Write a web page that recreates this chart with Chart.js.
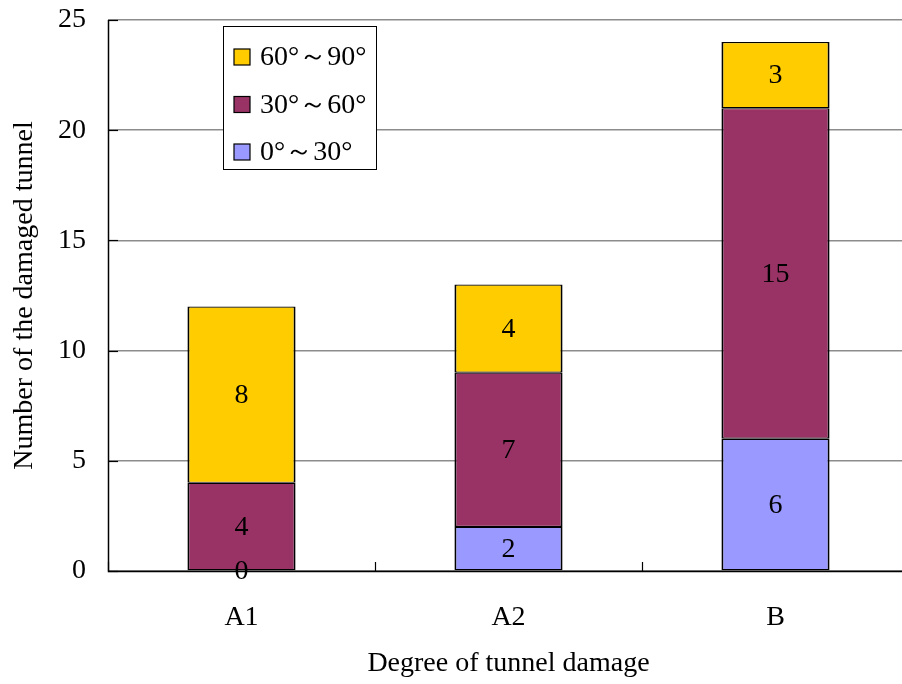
<!DOCTYPE html>
<html><head><meta charset="utf-8">
<script src="https://cdn.jsdelivr.net/npm/chart.js@4"></script>
<style>html,body{margin:0;padding:0;background:#fff;overflow:hidden;width:902px;height:684px}canvas{display:block}</style>
</head><body>
<canvas id="c" width="909" height="684" style="width:909px;height:684px"></canvas>
<script>
const categories = ['A1', 'A2', 'B'];
const seriesNames = ['0°～30°', '30°～60°', '60°～90°'];
const lowValues = [0, 2, 6];
const midValues = [4, 7, 15];
const highValues = [8, 4, 3];
const yTickValues = [0, 5, 10, 15, 20, 25];
const xTitle = 'Degree of tunnel damage';
const yTitle = 'Number of the damaged tunnel';

const seriesColors = ['#9999FF', '#993366', '#FFCC00'];
const FONT = "'Liberation Serif', 'Times New Roman', serif";
const FS = 28;

const valueLabels = {
  id: 'valueLabels',
  afterDatasetsDraw(chart) {
    const ctx = chart.ctx;
    ctx.save();
    ctx.font = FS + 'px ' + FONT;
    ctx.fillStyle = '#000';
    ctx.textAlign = 'center';
    ctx.textBaseline = 'middle';
    chart.data.datasets.forEach((ds, i) => {
      const meta = chart.getDatasetMeta(i);
      meta.data.forEach((el, j) => {
        const v = ds.data[j];
        ctx.fillText(String(v), el.x, (el.y + el.base) / 2 + 1);
      });
    });
    ctx.restore();
  }
};

const axisDecor = {
  id: 'axisDecor',
  afterDatasetsDraw(chart) {
    const ctx = chart.ctx;
    const a = chart.chartArea;
    const xs = chart.scales.x, ys = chart.scales.y;
    ctx.save();
    ctx.strokeStyle = '#000';
    ctx.lineWidth = 1.2;
    yTickValues.forEach(v => {
      const y = Math.round(ys.getPixelForValue(v)) + 0.5;
      ctx.beginPath(); ctx.moveTo(a.left, y); ctx.lineTo(a.left + 10, y); ctx.stroke();
    });
    const step = xs.getPixelForTick(1) - xs.getPixelForTick(0);
    for (let i = 0; i <= categories.length; i++) {
      const x = Math.round(xs.getPixelForTick(0) + (i - 0.5) * step) + 0.5;
      ctx.beginPath(); ctx.moveTo(x, a.bottom); ctx.lineTo(x, a.bottom - 9); ctx.stroke();
    }
    ctx.lineWidth = 1.5;
    ctx.beginPath(); ctx.moveTo(a.left + 0.5, a.top); ctx.lineTo(a.left + 0.5, a.bottom + 0.5); ctx.lineTo(a.right, a.bottom + 0.5); ctx.stroke();
    ctx.restore();
  }
};

const boxLegend = {
  id: 'boxLegend',
  afterDraw(chart) {
    const ctx = chart.ctx;
    const a = chart.chartArea;
    const left = a.left + 115, top = a.top + 6, w = 153, h = 143;
    ctx.save();
    ctx.fillStyle = '#fff';
    ctx.fillRect(left, top, w, h);
    ctx.strokeStyle = '#000';
    ctx.lineWidth = 1;
    ctx.strokeRect(left + 0.5, top + 0.5, w, h);
    ctx.font = FS + 'px ' + FONT;
    ctx.textAlign = 'left';
    ctx.textBaseline = 'middle';
    const order = chart.data.datasets.map((d, i) => i).reverse();
    order.forEach((di, k) => {
      const ds = chart.data.datasets[di];
      const cy = top + 31 + k * 47.5;
      ctx.fillStyle = ds.backgroundColor;
      ctx.fillRect(left + 11, cy - 8, 16, 16);
      ctx.strokeStyle = '#000';
      ctx.lineWidth = 1.2;
      ctx.strokeRect(left + 11, cy - 8, 16, 16);
      ctx.fillStyle = '#000';
      ctx.fillText(ds.label, left + 37, cy + 1);
    });
    ctx.restore();
  }
};

const valueSets = [lowValues, midValues, highValues];
new Chart(document.getElementById('c'), {
  type: 'bar',
  data: {
    labels: categories,
    datasets: seriesNames.map((name, i) => ({
      label: name,
      data: valueSets[i],
      backgroundColor: seriesColors[i],
      borderColor: '#000',
      borderWidth: { top: 1.2, bottom: 1.2, left: 2, right: 2 },
      borderSkipped: false,
      categoryPercentage: 1,
      barPercentage: 0.405
    }))
  },
  options: {
    responsive: false,
    devicePixelRatio: 1,
    animation: false,
    layout: { padding: { left: 0, top: 20, right: 0, bottom: 0 } },
    plugins: { legend: { display: false }, tooltip: { enabled: false } },
    scales: {
      x: {
        stacked: true,
        grid: { display: false, drawTicks: false },
        border: { display: false },
        ticks: { color: '#000', font: { family: FONT, size: FS }, padding: 30 },
        title: { display: true, text: xTitle, color: '#000', font: { family: FONT, size: FS }, padding: { top: 0, bottom: 4 } },
        afterFit(s) { s.height = 113; s.paddingLeft = 0; s.paddingRight = 0; }
      },
      y: {
        stacked: true,
        min: 0, max: 25,
        afterBuildTicks(s) { s.ticks = yTickValues.map(v => ({ value: v })); },
        grid: { color: '#8c8c8c', lineWidth: 1.5, drawTicks: false },
        border: { display: false },
        ticks: { color: '#000', font: { family: FONT, size: FS }, padding: 22 },
        title: { display: true, text: yTitle, color: '#000', font: { family: FONT, size: FS }, padding: { top: 8, bottom: 0 } },
        afterFit(s) { s.width = 108; s.paddingTop = 0; s.paddingBottom = 0; }
      }
    }
  },
  plugins: [axisDecor, valueLabels, boxLegend]
});
</script>
</body></html>
